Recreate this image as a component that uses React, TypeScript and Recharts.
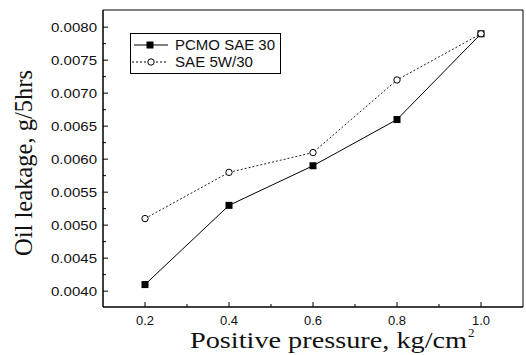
// Oil leakage vs positive pressure, two oils. Plain journal-figure styling:
// boxed frame, inward ticks, serif axis titles.

import { LineChart, Line, XAxis, YAxis, ReferenceArea } from "recharts";

const pressure = [0.2, 0.4, 0.6, 0.8, 1.0];
const pcmoSae30 = [0.0041, 0.0053, 0.0059, 0.0066, 0.0079];
const sae5w30 = [0.0051, 0.0058, 0.0061, 0.0072, 0.0079];
const seriesNames = ["PCMO SAE 30", "SAE 5W/30"];

const xMajorTicks = [0.2, 0.4, 0.6, 0.8, 1.0];
const xMinorTicks = [0.3, 0.5, 0.7, 0.9];
const yMajorTicks = [0.004, 0.0045, 0.005, 0.0055, 0.006, 0.0065, 0.007, 0.0075, 0.008];
const yMinorTicks = [0.00425, 0.00475, 0.00525, 0.00575, 0.00625, 0.00675, 0.00725, 0.00775];

const rows = pressure.map((p, i) => ({ p, pcmo: pcmoSae30[i], sae: sae5w30[i] }));

const SANS = "'Liberation Sans', Arial, sans-serif";
const SERIF = "'Liberation Serif', 'Times New Roman', serif";

function YTick(props: any) {
  const { x, y, payload } = props;
  const major = yMajorTicks.includes(payload.value);
  return (
    <g>
      <line x1={x} x2={x + (major ? 5 : 3)} y1={y} y2={y} stroke="#000" />
      {major && (
        <text x={x - 6} y={y + 5} textAnchor="end" fontSize={13} fontFamily={SANS} fill="#111"
          textLength={46} lengthAdjust="spacingAndGlyphs">
          {payload.value.toFixed(4)}
        </text>
      )}
    </g>
  );
}

function XTick(props: any) {
  const { x, y, payload } = props;
  const major = xMajorTicks.includes(payload.value);
  return (
    <g>
      <line x1={x} x2={x} y1={y} y2={y - (major ? 5 : 3)} stroke="#000" />
      {major && (
        <text x={x} y={y + 18} textAnchor="middle" fontSize={13} fontFamily={SANS} fill="#111">
          {payload.value.toFixed(1)}
        </text>
      )}
    </g>
  );
}

function Square(props: any) {
  const { cx, cy, index } = props;
  return <rect key={`sq-${index}`} x={cx - 3.5} y={cy - 3.5} width={7} height={7} fill="#000" />;
}

function Circle(props: any) {
  const { cx, cy, index } = props;
  return <circle key={`ci-${index}`} cx={cx} cy={cy} r={3.2} fill="#fff" stroke="#000" strokeWidth={1} />;
}

// boxed legend in the upper left of the plot
function LegendBox({ x, y }: { x: number; y: number }) {
  return (
    <g transform={`translate(${x}, ${y})`}>
      <rect x={0.5} y={0.5} width={150} height={40} fill="#fff" stroke="#000" />
      <line x1={4} x2={38} y1={12} y2={12} stroke="#000" />
      <rect x={16.5} y={8.5} width={7} height={7} fill="#000" />
      <text x={45} y={17} fontSize={14} fontFamily={SANS} fill="#111" textLength={100} lengthAdjust="spacingAndGlyphs">
        {seriesNames[0]}
      </text>
      <line x1={2} x2={38} y1={29} y2={29} stroke="#000" strokeDasharray="2 2" />
      <circle cx={21} cy={29} r={3.2} fill="#fff" stroke="#000" />
      <text x={45} y={34} fontSize={14} fontFamily={SANS} fill="#111" textLength={78} lengthAdjust="spacingAndGlyphs">
        {seriesNames[1]}
      </text>
    </g>
  );
}

export default function App() {
  return (
    <div style={{ position: "absolute", left: 0, top: 0, width: 526, height: 355, background: "#fff" }}>
      <LineChart width={526} height={355} data={rows} margin={{ top: 10, right: 3, bottom: 0, left: 43 }}>
        <XAxis dataKey="p" type="number" domain={[0.1, 1.1]} allowDataOverflow
          ticks={[...xMajorTicks, ...xMinorTicks].sort((a, b) => a - b)}
          tick={<XTick />} tickLine={false} tickSize={0} tickMargin={0} height={48} interval={0}
          axisLine={{ stroke: "#000" }} />
        <YAxis type="number" domain={[0.00376, 0.00826]} allowDataOverflow
          ticks={[...yMajorTicks, ...yMinorTicks].sort((a, b) => a - b)}
          tick={<YTick />} tickLine={false} tickSize={0} tickMargin={0} width={60} interval={0}
          axisLine={{ stroke: "#000" }} />
        <ReferenceArea x1={0.1} x2={1.1} y1={0.00376} y2={0.00826} fill="none" stroke="#000" strokeWidth={1} ifOverflow="visible" />
        <Line dataKey="pcmo" name={seriesNames[0]} stroke="#000" strokeWidth={1} dot={<Square />} isAnimationActive={false} />
        <Line dataKey="sae" name={seriesNames[1]} stroke="#222" strokeWidth={1} strokeDasharray="2 2" dot={<Circle />} isAnimationActive={false} />
      </LineChart>
      <svg width={526} height={355} style={{ position: "absolute", left: 0, top: 0, pointerEvents: "none" }}>
        <LegendBox x={130} y={33} />
        <text x={32} y={163} transform="rotate(-90, 32, 163)" textAnchor="middle" fontSize={25} fontFamily={SERIF} fill="#111"
          textLength={186} lengthAdjust="spacingAndGlyphs">
          Oil leakage, g/5hrs
        </text>
        <text x={190} y={348} fontSize={23} fontFamily={SERIF} fill="#111" textLength={277} lengthAdjust="spacingAndGlyphs">
          Positive pressure, kg/cm
        </text>
        <text x={468} y={337} fontSize={13} fontFamily={SERIF} fill="#111">2</text>
      </svg>
    </div>
  );
}
